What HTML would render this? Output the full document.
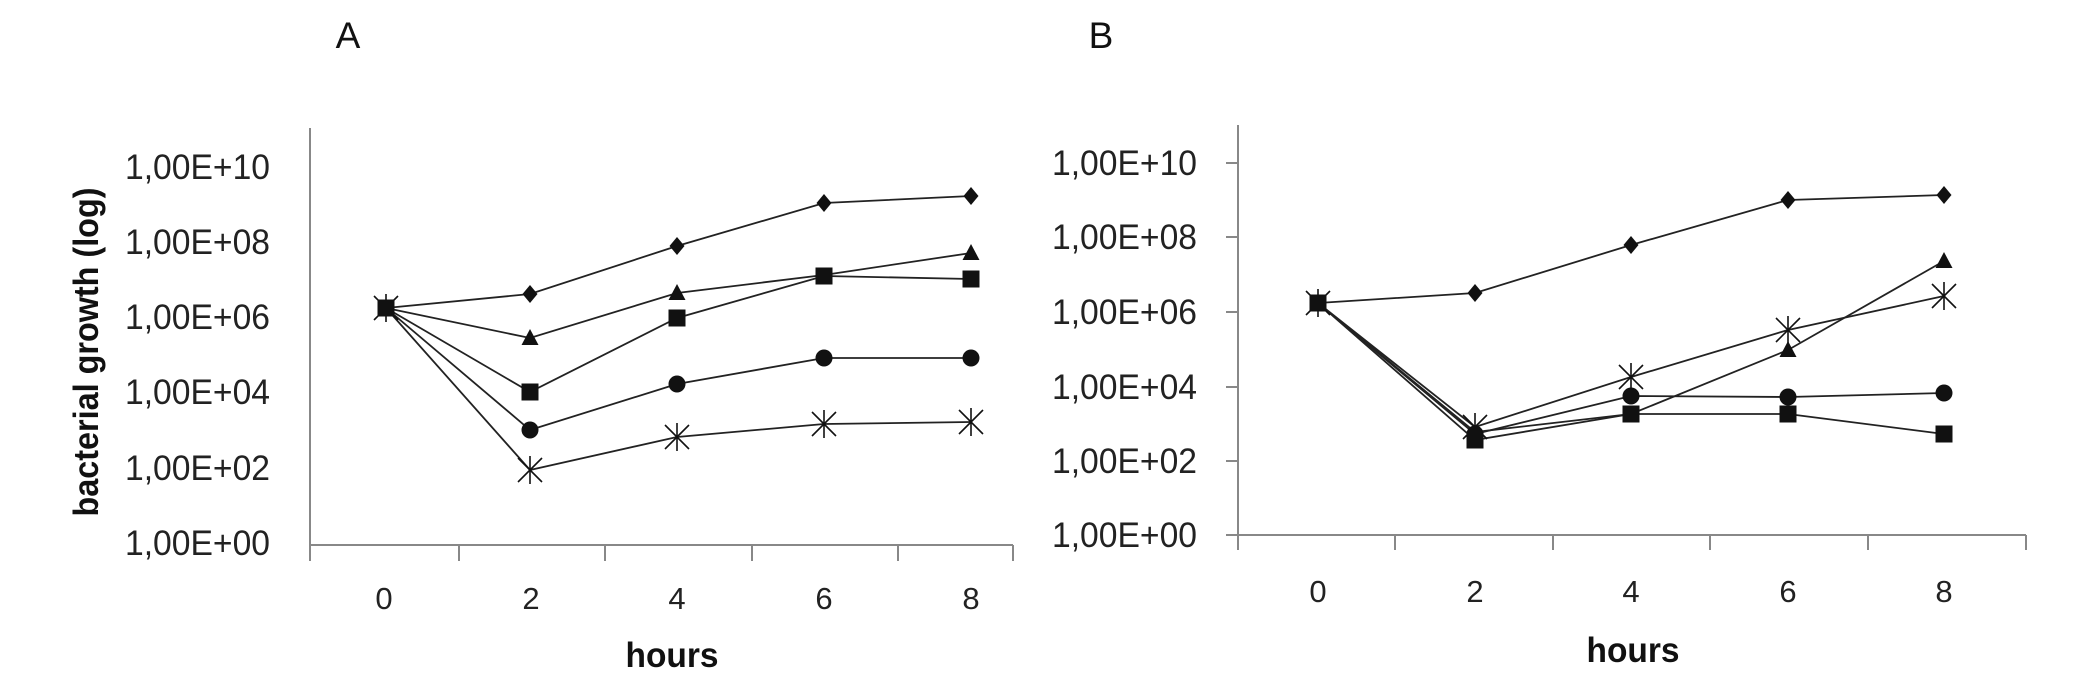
<!DOCTYPE html>
<html><head><meta charset="utf-8"><style>html,body{margin:0;padding:0;background:#fff}svg{display:block}</style></head>
<body>
<svg width="2074" height="695" viewBox="0 0 2074 695" xmlns="http://www.w3.org/2000/svg" font-family="'Liberation Sans', sans-serif">
<defs>
<g id="sq"><rect x="-8.5" y="-8.5" width="17" height="17" fill="#111"/></g>
<g id="ci"><circle r="8.5" fill="#111"/></g>
<g id="di"><polygon points="0,-9 7.5,0 0,9 -7.5,0" fill="#111"/></g>
<g id="tr"><polygon points="0,-9 8.5,7 -8.5,7" fill="#111"/></g>
<g id="st" stroke="#111" stroke-width="1.6"><line x1="-12" y1="-12" x2="12" y2="12"/><line x1="-12" y1="12" x2="12" y2="-12"/><line x1="0" y1="-14" x2="0" y2="14"/></g>
</defs>
<text x="348" y="48" font-size="37" text-anchor="middle" fill="#111">A</text>
<text x="1101" y="48" font-size="37" text-anchor="middle" fill="#111">B</text>

<g stroke="#888" stroke-width="2" fill="none">
<line x1="310" y1="128" x2="310" y2="561"/>
<line x1="310" y1="545" x2="1013" y2="545"/>
<line x1="459" y1="545" x2="459" y2="561"/><line x1="605" y1="545" x2="605" y2="561"/><line x1="752" y1="545" x2="752" y2="561"/><line x1="898" y1="545" x2="898" y2="561"/><line x1="1013" y1="545" x2="1013" y2="561"/>
</g>
<g font-size="35" fill="#222" text-anchor="end">
<text x="270" y="179" textLength="145" lengthAdjust="spacingAndGlyphs">1,00E+10</text>
<text x="270" y="254" textLength="145" lengthAdjust="spacingAndGlyphs">1,00E+08</text>
<text x="270" y="329" textLength="145" lengthAdjust="spacingAndGlyphs">1,00E+06</text>
<text x="270" y="404" textLength="145" lengthAdjust="spacingAndGlyphs">1,00E+04</text>
<text x="270" y="480" textLength="145" lengthAdjust="spacingAndGlyphs">1,00E+02</text>
<text x="270" y="555" textLength="145" lengthAdjust="spacingAndGlyphs">1,00E+00</text>
</g>
<g font-size="31" fill="#222" text-anchor="middle">
<text x="384" y="609">0</text><text x="531" y="609">2</text><text x="677" y="609">4</text><text x="824" y="609">6</text><text x="971" y="609">8</text>
</g>
<text x="672" y="667" font-size="35" font-weight="bold" fill="#111" text-anchor="middle" textLength="93" lengthAdjust="spacingAndGlyphs">hours</text>
<text transform="translate(98,352) rotate(-90)" font-size="35" font-weight="bold" fill="#111" text-anchor="middle" textLength="329" lengthAdjust="spacingAndGlyphs">bacterial growth (log)</text>

<g stroke="#222" stroke-width="1.8" fill="none">
<polyline points="386,308 530,294 677,246 824,203 971,196"/>
<polyline points="386,308 530,338 677,293 824,275 971,253"/>
<polyline points="386,308 530,392 677,318 824,276 971,279"/>
<polyline points="386,308 530,430 677,384 824,358 971,358"/>
<polyline points="386,308 530,470 677,437 824,424 971,422"/>
</g>
<use href="#st" x="386" y="308"/><use href="#sq" x="386" y="308"/>
<use href="#di" x="530" y="294"/><use href="#di" x="677" y="246"/><use href="#di" x="824" y="203"/><use href="#di" x="971" y="196"/>
<use href="#tr" x="530" y="338"/><use href="#tr" x="677" y="293"/><use href="#tr" x="971" y="253"/>
<use href="#sq" x="530" y="392"/><use href="#sq" x="677" y="318"/><use href="#sq" x="824" y="276"/><use href="#sq" x="971" y="279"/>
<use href="#ci" x="530" y="430"/><use href="#ci" x="677" y="384"/><use href="#ci" x="824" y="358"/><use href="#ci" x="971" y="358"/>
<use href="#st" x="530" y="470"/><use href="#st" x="677" y="437"/><use href="#st" x="824" y="424"/><use href="#st" x="971" y="422"/>

<g stroke="#888" stroke-width="2" fill="none">
<line x1="1238" y1="125" x2="1238" y2="550"/>
<line x1="1238" y1="535" x2="2026" y2="535"/>
<line x1="1226" y1="163" x2="1238" y2="163"/><line x1="1226" y1="237" x2="1238" y2="237"/><line x1="1226" y1="312" x2="1238" y2="312"/><line x1="1226" y1="387" x2="1238" y2="387"/><line x1="1226" y1="461" x2="1238" y2="461"/><line x1="1226" y1="535" x2="1238" y2="535"/>
<line x1="1395" y1="535" x2="1395" y2="550"/><line x1="1553" y1="535" x2="1553" y2="550"/><line x1="1710" y1="535" x2="1710" y2="550"/><line x1="1868" y1="535" x2="1868" y2="550"/><line x1="2026" y1="535" x2="2026" y2="550"/>
</g>
<g font-size="35" fill="#222" text-anchor="end">
<text x="1197" y="175" textLength="145" lengthAdjust="spacingAndGlyphs">1,00E+10</text>
<text x="1197" y="249" textLength="145" lengthAdjust="spacingAndGlyphs">1,00E+08</text>
<text x="1197" y="324" textLength="145" lengthAdjust="spacingAndGlyphs">1,00E+06</text>
<text x="1197" y="399" textLength="145" lengthAdjust="spacingAndGlyphs">1,00E+04</text>
<text x="1197" y="473" textLength="145" lengthAdjust="spacingAndGlyphs">1,00E+02</text>
<text x="1197" y="547" textLength="145" lengthAdjust="spacingAndGlyphs">1,00E+00</text>
</g>
<g font-size="31" fill="#222" text-anchor="middle">
<text x="1318" y="602">0</text><text x="1475" y="602">2</text><text x="1631" y="602">4</text><text x="1788" y="602">6</text><text x="1944" y="602">8</text>
</g>
<text x="1633" y="662" font-size="35" font-weight="bold" fill="#111" text-anchor="middle" textLength="93" lengthAdjust="spacingAndGlyphs">hours</text>

<g stroke="#222" stroke-width="1.8" fill="none">
<polyline points="1318,303 1475,293 1631,245 1788,200 1944,195"/>
<polyline points="1318,303 1475,432 1631,414 1788,350 1944,261"/>
<polyline points="1318,303 1475,427 1631,377 1788,330 1944,296"/>
<polyline points="1318,303 1475,434 1631,396 1788,397 1944,393"/>
<polyline points="1318,303 1475,440 1631,414 1788,414 1944,434"/>
</g>
<use href="#st" x="1318" y="303"/><use href="#sq" x="1318" y="303"/>
<use href="#di" x="1475" y="293"/><use href="#di" x="1631" y="245"/><use href="#di" x="1788" y="200"/><use href="#di" x="1944" y="195"/>
<use href="#st" x="1475" y="427"/><use href="#st" x="1631" y="377"/><use href="#st" x="1788" y="330"/><use href="#st" x="1944" y="296"/>
<use href="#tr" x="1788" y="350"/><use href="#tr" x="1944" y="261"/>
<use href="#ci" x="1475" y="434"/><use href="#ci" x="1631" y="396"/><use href="#ci" x="1788" y="397"/><use href="#ci" x="1944" y="393"/>
<use href="#sq" x="1475" y="440"/><use href="#sq" x="1631" y="414"/><use href="#sq" x="1788" y="414"/><use href="#sq" x="1944" y="434"/>
</svg>
</body></html>
